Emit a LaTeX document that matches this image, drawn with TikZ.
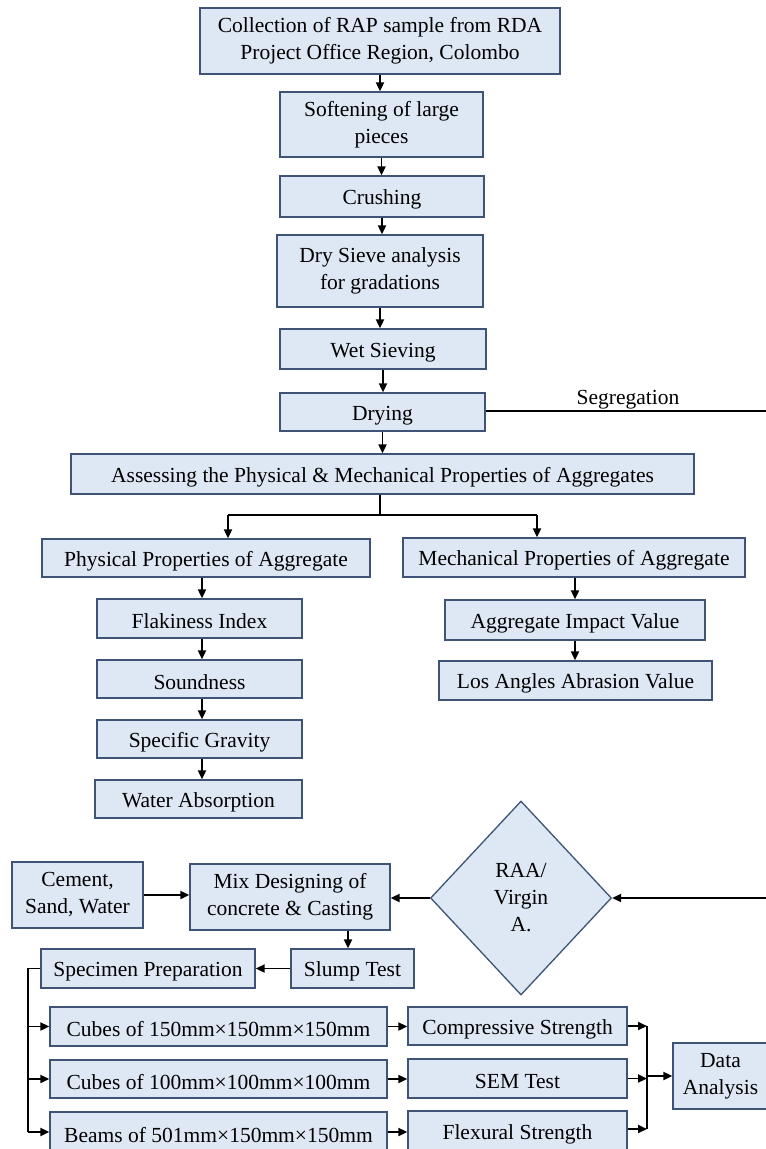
\documentclass[tikz,border=0pt]{standalone}
\usepackage{fontspec}
\setmainfont{Liberation Serif}
\usetikzlibrary{shapes.geometric,arrows.meta}
\definecolor{boxfill}{HTML}{DEE8F5}
\definecolor{boxline}{HTML}{3E5375}
\tikzset{
  box/.style={draw=boxline, fill=boxfill, line width=1.3pt, inner sep=0pt,
    align=center, font=\fontsize{21.5}{27}\selectfont,
    execute at begin node={\rule{0pt}{21pt}}},
  arr/.style={line width=1.9pt, -{Triangle[length=9pt,width=8pt]}},
  ln/.style={line width=1.9pt},
  lbl/.style={font=\fontsize{21.5}{27}\selectfont, inner sep=0pt},
}
% \bx{name}{centre x}{centre y}{width}{height}{text}
\newcommand\bx[6]{\node[box, minimum width=#4pt, minimum height=#5pt] (#1) at (#2,#3) {#6};}
\begin{document}
\begin{tikzpicture}[x=1pt, y=-1pt]
\useasboundingbox (0,0) rectangle (766,1149);
\fill[white] (0,0) rectangle (766,1149);

% preparation of the RAP
\bx{collect}{380}{41}{360}{66}{Collection of RAP sample from RDA\\Project Office Region, Colombo}
\bx{soften}{381.5}{124.5}{203}{65}{Softening of large\\pieces}
\bx{crush}{382}{196.5}{204}{41}{Crushing}
\bx{dry}{380}{271}{206}{72}{Dry Sieve analysis\\for gradations}
\bx{wet}{383}{349}{206}{40}{Wet Sieving}
\bx{drying}{382.5}{412}{205}{38}{Drying}
\bx{assess}{382.5}{474}{623}{40}{Assessing the Physical \& Mechanical Properties of Aggregates}

% aggregate properties
\bx{phys}{206}{558}{328}{38}{Physical Properties of Aggregate}
\bx{mech}{574}{557.5}{342}{39}{Mechanical Properties of Aggregate}
\bx{flaky}{199.5}{618.5}{205}{39}{Flakiness Index}
\bx{sound}{199.5}{679}{205}{38}{Soundness}
\bx{grav}{199.5}{739}{205}{38}{Specific Gravity}
\bx{water}{198.5}{799}{207}{38}{Water Absorption}
\bx{impact}{575}{620}{260}{40}{Aggregate Impact Value}
\bx{abras}{575.5}{680.5}{273}{39}{Los Angles Abrasion Value}

% concrete
\bx{cement}{77.5}{895}{131}{66}{Cement,\\Sand, Water}
\bx{mix}{290}{897}{200}{66}{Mix Designing of\\concrete \& Casting}
\node[box, diamond, minimum width=181pt, minimum height=194pt] (raa) at (521,898) {RAA/\\Virgin\\A.};
\bx{slump}{352.5}{968.5}{123}{39}{Slump Test}
\bx{spec}{148}{968.5}{214}{39}{Specimen Preparation}
\bx{cube1}{218.5}{1026.5}{337}{39}{Cubes of 150mm×150mm×150mm}
\bx{cube2}{218.5}{1079}{337}{38}{Cubes of 100mm×100mm×100mm}
\bx{beam}{218.5}{1132}{337}{40}{Beams of 501mm×150mm×150mm}
\bx{comp}{517.5}{1026}{219}{38}{Compressive Strength}
\bx{sem}{517.5}{1078.5}{219}{39}{SEM Test}
\bx{flex}{517.5}{1131}{219}{40}{Flexural Strength}
\bx{data}{720.5}{1076}{95}{66}{Data\\Analysis}

% connectors of the upper chain
\draw[arr] (collect.south) -- (collect.south |- soften.north);
\draw[arr] (soften.south) -- (soften.south |- crush.north);
\draw[arr] (crush.south) -- (crush.south |- dry.north);
\draw[arr] (dry.south) -- (dry.south |- wet.north);
\draw[arr] (wet.south) -- (wet.south |- drying.north);
\draw[arr] (drying.south) -- (drying.south |- assess.north);

% segregation branch leaves to the right
\coordinate (segend) at (766,411);
\draw[ln] (drying.east |- segend) -- (segend);
\node[lbl] (seg) at (628,400) {Segregation};

% split into the two property groups
\coordinate (split) at (380,515);
\coordinate (splitL) at (228,515);
\coordinate (splitR) at (537,515);
\draw[ln] (assess.south -| split) -- (split);
\draw[arr] (splitL) -- (splitL |- phys.north);
\draw[arr] (splitR) -- (splitR |- mech.north);
\draw[ln] (splitL) -- (splitR);

\coordinate (pcol) at (202,0);
\draw[arr] (phys.south -| pcol) -- (flaky.north -| pcol);
\draw[arr] (flaky.south -| pcol) -- (sound.north -| pcol);
\draw[arr] (sound.south -| pcol) -- (grav.north -| pcol);
\draw[arr] (grav.south -| pcol) -- (water.north -| pcol);
\draw[arr] (mech.south -| impact.north) -- (impact.north);
\draw[arr] (impact.south) -- (impact.south |- abras.north);

% concrete stage
\coordinate (raain) at (766,898);
\draw[arr] (raain) -- (raa.east);
\draw[arr] (raa.west) -- (raa.west -| mix.east);
\draw[arr] (cement.east) -- (cement.east -| mix.west);
\coordinate (mixdown) at (348,0);
\draw[arr] (mix.south -| mixdown) -- (slump.north -| mixdown);
\draw[arr] (slump.west) -- (spec.east);

% specimens
\coordinate (trunk) at (28,968.5);
\coordinate (trunkend) at (28,1132);
\draw[ln] (spec.west) -- (trunk) -- (trunkend);
\draw[arr] (trunk |- cube1.west) -- (cube1.west);
\draw[arr] (trunk |- cube2.west) -- (cube2.west);
\draw[arr] (trunkend) -- (beam.west);
\draw[arr] (cube1.east) -- (comp.west |- cube1.east);
\draw[arr] (cube2.east) -- (sem.west |- cube2.east);
\draw[arr] (beam.east) -- (flex.west |- beam.east);

% collection of the test results
\coordinate (ctop) at (647,1026);
\coordinate (cbot) at (647,1129);
\draw[ln] (ctop) -- (cbot);
\draw[arr] (comp.east) -- (ctop);
\draw[arr] (sem.east) -- (sem.east -| ctop);
\draw[arr] (flex.east |- cbot) -- (cbot);
\draw[arr] (ctop |- data.west) -- (data.west);
\end{tikzpicture}
\end{document}
